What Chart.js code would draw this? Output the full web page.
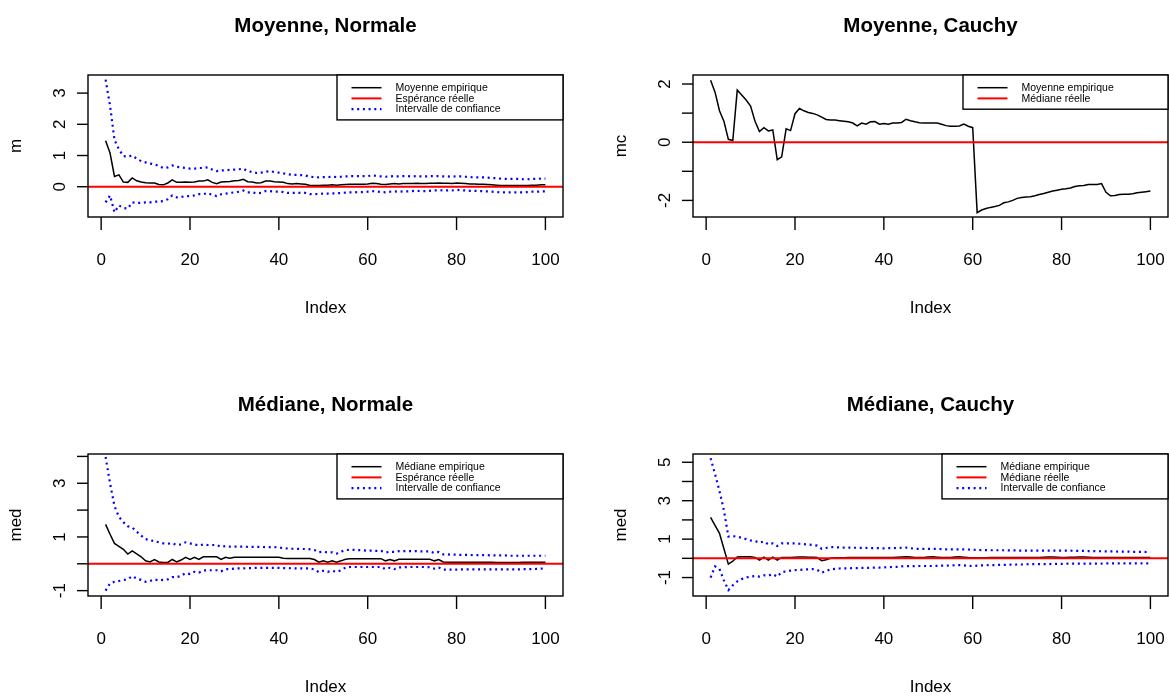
<!DOCTYPE html>
<html>
<head>
<meta charset="utf-8">
<script src="https://cdn.jsdelivr.net/npm/chart.js@4.4.1/dist/chart.umd.min.js"></script>
<style>
  html, body { margin: 0; padding: 0; background: #fff; overflow: hidden; }
  #fig { position: relative; width: 1169px; height: 697px; background: #fff; }
  .cell { position: absolute; }
  .cell canvas { display: block; }
</style>
</head>
<body>
<div id="fig">
  <div class="cell" style="left:0;top:0"><canvas id="c1" width="584" height="379"></canvas></div>
  <div class="cell" style="left:584px;top:0"><canvas id="c2" width="585" height="379"></canvas></div>
  <div class="cell" style="left:0;top:379px"><canvas id="c3" width="584" height="318"></canvas></div>
  <div class="cell" style="left:584px;top:379px"><canvas id="c4" width="585" height="318"></canvas></div>
</div>
<script>
// sample size index 1..100
const idx = Array.from({ length: 100 }, (_, i) => i + 1);
const xTicks = [0, 20, 40, 60, 80, 100];
const trueValue = 0;

// running mean, normal sample, with confidence bounds
const meanNorm = [
  1.47, 1.08, 0.33, 0.38, 0.15, 0.14, 0.28, 0.19, 0.15, 0.13,
  0.12, 0.12, 0.07, 0.06, 0.12, 0.22, 0.14, 0.14, 0.15, 0.14,
  0.15, 0.18, 0.18, 0.22, 0.14, 0.10, 0.15, 0.16, 0.17, 0.19,
  0.20, 0.24, 0.16, 0.15, 0.12, 0.13, 0.18, 0.18, 0.16, 0.15,
  0.14, 0.10, 0.09, 0.10, 0.09, 0.08, 0.04, 0.04, 0.04, 0.05,
  0.05, 0.06, 0.05, 0.06, 0.07, 0.08, 0.08, 0.08, 0.08, 0.09,
  0.11, 0.10, 0.08, 0.07, 0.09, 0.10, 0.09, 0.10, 0.10, 0.10,
  0.11, 0.10, 0.10, 0.11, 0.11, 0.12, 0.11, 0.11, 0.10, 0.12,
  0.11, 0.10, 0.09, 0.09, 0.08, 0.08, 0.07, 0.06, 0.05, 0.04,
  0.04, 0.04, 0.04, 0.04, 0.04, 0.04, 0.05, 0.05, 0.06, 0.06
];
const meanNormHi = [
  3.43, 2.60, 1.50, 1.20, 0.98, 0.97, 1.00, 0.90, 0.82, 0.78,
  0.74, 0.72, 0.66, 0.60, 0.62, 0.68, 0.64, 0.62, 0.60, 0.58,
  0.58, 0.60, 0.60, 0.62, 0.55, 0.50, 0.52, 0.53, 0.54, 0.55,
  0.56, 0.58, 0.50, 0.47, 0.44, 0.45, 0.48, 0.50, 0.47, 0.45,
  0.43, 0.40, 0.38, 0.38, 0.37, 0.36, 0.32, 0.31, 0.30, 0.31,
  0.31, 0.32, 0.31, 0.32, 0.33, 0.34, 0.34, 0.34, 0.34, 0.34,
  0.36, 0.35, 0.33, 0.32, 0.33, 0.34, 0.33, 0.34, 0.34, 0.33,
  0.34, 0.33, 0.33, 0.34, 0.34, 0.34, 0.33, 0.33, 0.32, 0.34,
  0.33, 0.32, 0.31, 0.30, 0.30, 0.30, 0.29, 0.28, 0.27, 0.26,
  0.25, 0.25, 0.25, 0.25, 0.24, 0.24, 0.25, 0.25, 0.26, 0.26
];
const meanNormLo = [
  -0.50, -0.28, -0.82, -0.60, -0.68, -0.70, -0.50, -0.52, -0.52, -0.50,
  -0.50, -0.48, -0.48, -0.46, -0.40, -0.28, -0.34, -0.33, -0.30, -0.30,
  -0.28, -0.24, -0.24, -0.20, -0.26, -0.30, -0.24, -0.22, -0.20, -0.18,
  -0.16, -0.12, -0.18, -0.18, -0.21, -0.20, -0.14, -0.14, -0.16, -0.16,
  -0.17, -0.20, -0.20, -0.19, -0.20, -0.20, -0.24, -0.24, -0.23, -0.22,
  -0.22, -0.21, -0.21, -0.20, -0.19, -0.18, -0.18, -0.17, -0.17, -0.16,
  -0.14, -0.15, -0.17, -0.18, -0.16, -0.15, -0.16, -0.15, -0.15, -0.14,
  -0.13, -0.14, -0.14, -0.13, -0.12, -0.11, -0.12, -0.12, -0.12, -0.10,
  -0.11, -0.12, -0.13, -0.13, -0.14, -0.14, -0.15, -0.16, -0.17, -0.18,
  -0.18, -0.18, -0.18, -0.18, -0.18, -0.17, -0.16, -0.16, -0.15, -0.15
];

// running mean, Cauchy sample
const meanCauchy = [
  2.13, 1.72, 1.08, 0.72, 0.10, 0.06, 1.79, 1.62, 1.45, 1.24,
  0.72, 0.37, 0.50, 0.39, 0.42, -0.60, -0.50, 0.46, 0.40, 0.98,
  1.16, 1.08, 1.02, 0.99, 0.94, 0.86, 0.78, 0.76, 0.76, 0.74,
  0.72, 0.70, 0.66, 0.56, 0.66, 0.62, 0.70, 0.71, 0.62, 0.64,
  0.62, 0.66, 0.66, 0.68, 0.79, 0.74, 0.70, 0.67, 0.66, 0.66,
  0.66, 0.66, 0.62, 0.57, 0.55, 0.55, 0.56, 0.62, 0.55, 0.50,
  -2.42, -2.33, -2.28, -2.24, -2.21, -2.17, -2.08, -2.05, -2.00, -1.93,
  -1.90, -1.88, -1.87, -1.84, -1.80, -1.76, -1.72, -1.68, -1.65, -1.62,
  -1.60, -1.57, -1.52, -1.50, -1.49, -1.45, -1.45, -1.45, -1.42, -1.72,
  -1.84, -1.83, -1.80, -1.79, -1.79, -1.77, -1.74, -1.72, -1.70, -1.68
];

// running median, normal sample, with confidence bounds
const medNorm = [
  1.47, 1.10, 0.76, 0.65, 0.54, 0.36, 0.48, 0.37, 0.26, 0.11,
  0.07, 0.16, 0.07, 0.05, 0.05, 0.16, 0.07, 0.14, 0.24, 0.16,
  0.24, 0.16, 0.26, 0.26, 0.26, 0.26, 0.16, 0.24, 0.21, 0.24,
  0.24, 0.24, 0.24, 0.24, 0.24, 0.24, 0.24, 0.24, 0.24, 0.24,
  0.21, 0.20, 0.20, 0.20, 0.20, 0.20, 0.20, 0.16, 0.06, 0.11,
  0.06, 0.11, 0.06, 0.11, 0.17, 0.19, 0.19, 0.19, 0.19, 0.19,
  0.19, 0.19, 0.19, 0.11, 0.16, 0.11, 0.17, 0.17, 0.17, 0.17,
  0.17, 0.17, 0.17, 0.17, 0.11, 0.16, 0.07, 0.06, 0.06, 0.06,
  0.06, 0.06, 0.06, 0.06, 0.06, 0.06, 0.06, 0.06, 0.05, 0.05,
  0.05, 0.05, 0.05, 0.05, 0.06, 0.06, 0.06, 0.06, 0.06, 0.06
];
const medNormHi = [
  3.98, 3.00, 2.15, 1.75, 1.55, 1.40, 1.35, 1.20, 1.05, 0.92,
  0.88, 0.84, 0.80, 0.76, 0.75, 0.76, 0.70, 0.72, 0.80, 0.76,
  0.72, 0.68, 0.72, 0.70, 0.70, 0.70, 0.63, 0.66, 0.64, 0.64,
  0.64, 0.64, 0.63, 0.63, 0.63, 0.63, 0.62, 0.62, 0.62, 0.61,
  0.58, 0.57, 0.56, 0.56, 0.55, 0.55, 0.54, 0.51, 0.43, 0.45,
  0.42, 0.43, 0.38, 0.45, 0.51, 0.52, 0.52, 0.51, 0.50, 0.49,
  0.49, 0.48, 0.48, 0.42, 0.45, 0.44, 0.47, 0.47, 0.47, 0.47,
  0.47, 0.46, 0.46, 0.46, 0.40, 0.44, 0.35, 0.35, 0.34, 0.34,
  0.33, 0.33, 0.33, 0.32, 0.32, 0.32, 0.32, 0.31, 0.31, 0.31,
  0.31, 0.30, 0.30, 0.30, 0.30, 0.30, 0.30, 0.30, 0.30, 0.30
];
const medNormLo = [
  -1.00, -0.73, -0.67, -0.64, -0.61, -0.57, -0.46, -0.55, -0.60, -0.67,
  -0.64, -0.58, -0.62, -0.60, -0.58, -0.50, -0.50, -0.45, -0.35, -0.38,
  -0.30, -0.33, -0.25, -0.24, -0.24, -0.24, -0.28, -0.20, -0.20, -0.18,
  -0.17, -0.17, -0.16, -0.16, -0.15, -0.15, -0.15, -0.15, -0.15, -0.15,
  -0.16, -0.16, -0.17, -0.17, -0.17, -0.17, -0.17, -0.21, -0.31, -0.26,
  -0.30, -0.26, -0.30, -0.24, -0.14, -0.12, -0.12, -0.12, -0.12, -0.12,
  -0.12, -0.12, -0.12, -0.20, -0.15, -0.20, -0.13, -0.13, -0.12, -0.12,
  -0.12, -0.12, -0.12, -0.13, -0.18, -0.14, -0.22, -0.22, -0.22, -0.22,
  -0.21, -0.21, -0.21, -0.21, -0.21, -0.21, -0.21, -0.21, -0.21, -0.21,
  -0.21, -0.21, -0.21, -0.21, -0.20, -0.20, -0.20, -0.19, -0.18, -0.17
];

// running median, Cauchy sample, with confidence bounds
const medCauchy = [
  2.13, 1.72, 1.30, 0.50, -0.30, -0.15, 0.07, 0.08, 0.08, 0.08,
  0.05, -0.09, 0.06, -0.09, 0.06, -0.09, 0.05, 0.05, 0.05, 0.06,
  0.07, 0.07, 0.06, 0.06, 0.04, -0.12, -0.07, 0.00, 0.03, 0.03,
  0.03, 0.04, 0.04, 0.04, 0.05, 0.05, 0.05, 0.05, 0.04, 0.04,
  0.05, 0.05, 0.06, 0.07, 0.08, 0.07, 0.05, 0.04, 0.05, 0.07,
  0.08, 0.06, 0.04, 0.04, 0.05, 0.07, 0.08, 0.06, 0.04, 0.03,
  0.03, 0.03, 0.03, 0.04, 0.04, 0.04, 0.04, 0.04, 0.04, 0.04,
  0.04, 0.04, 0.04, 0.04, 0.05, 0.06, 0.07, 0.07, 0.06, 0.05,
  0.05, 0.06, 0.06, 0.07, 0.07, 0.06, 0.05, 0.04, 0.04, 0.04,
  0.04, 0.04, 0.04, 0.04, 0.04, 0.04, 0.04, 0.04, 0.04, 0.04
];
const medCauchyHi = [
  5.21, 4.40, 3.50, 2.50, 1.13, 1.16, 1.12, 1.07, 1.00, 0.93,
  0.90, 0.82, 0.88, 0.73, 0.78, 0.64, 0.78, 0.78, 0.78, 0.78,
  0.76, 0.74, 0.72, 0.70, 0.66, 0.50, 0.54, 0.58, 0.58, 0.57,
  0.56, 0.56, 0.55, 0.55, 0.54, 0.54, 0.53, 0.53, 0.53, 0.52,
  0.53, 0.53, 0.54, 0.55, 0.56, 0.53, 0.50, 0.49, 0.49, 0.49,
  0.49, 0.49, 0.48, 0.47, 0.47, 0.47, 0.47, 0.47, 0.46, 0.45,
  0.44, 0.43, 0.43, 0.42, 0.42, 0.42, 0.42, 0.41, 0.41, 0.41,
  0.40, 0.40, 0.40, 0.40, 0.40, 0.40, 0.40, 0.40, 0.40, 0.40,
  0.40, 0.40, 0.39, 0.39, 0.39, 0.38, 0.38, 0.37, 0.37, 0.36,
  0.36, 0.36, 0.35, 0.35, 0.35, 0.34, 0.34, 0.34, 0.33, 0.33
];
const medCauchyLo = [
  -1.00, -0.42, -0.55, -1.15, -1.65, -1.40, -1.20, -1.08, -1.00, -0.95,
  -0.92, -0.95, -0.88, -0.90, -0.82, -0.95, -0.72, -0.68, -0.64, -0.61,
  -0.60, -0.58, -0.57, -0.56, -0.60, -0.75, -0.66, -0.57, -0.55, -0.53,
  -0.52, -0.52, -0.51, -0.51, -0.50, -0.50, -0.49, -0.48, -0.48, -0.47,
  -0.46, -0.45, -0.44, -0.42, -0.40, -0.41, -0.41, -0.40, -0.40, -0.40,
  -0.40, -0.39, -0.38, -0.38, -0.37, -0.36, -0.35, -0.37, -0.39, -0.40,
  -0.38, -0.37, -0.36, -0.35, -0.35, -0.34, -0.34, -0.33, -0.33, -0.32,
  -0.32, -0.31, -0.30, -0.30, -0.30, -0.30, -0.30, -0.29, -0.29, -0.29,
  -0.28, -0.28, -0.28, -0.28, -0.28, -0.27, -0.27, -0.27, -0.27, -0.26,
  -0.26, -0.26, -0.26, -0.26, -0.26, -0.26, -0.26, -0.26, -0.26, -0.26
];

const FONT = '"Liberation Sans", Arial, Helvetica, sans-serif';
const BLUE_DOT = [2, 3.7];

function line(ctx, x1, y1, x2, y2) {
  ctx.beginPath();
  ctx.moveTo(x1, y1);
  ctx.lineTo(x2, y2);
  ctx.stroke();
}

function vText(ctx, s, x, y) {
  // text read bottom-to-top, baseline at x
  ctx.save();
  ctx.translate(x, y);
  ctx.rotate(-Math.PI / 2);
  ctx.textAlign = 'center';
  ctx.textBaseline = 'alphabetic';
  ctx.fillText(s, 0, 0);
  ctx.restore();
}

// base-graphics style frame: box, outside ticks, titles, abline and legend
const rFrame = {
  id: 'rFrame',
  afterDatasetsDraw(chart, args, o) {
    const { ctx, chartArea: a, scales: { x, y } } = chart;
    ctx.save();

    // reference value
    ctx.strokeStyle = '#ff0000';
    ctx.lineWidth = 2;
    const yr = y.getPixelForValue(o.ref.value);
    line(ctx, a.left, yr, a.right, yr);

    ctx.strokeStyle = '#000';
    ctx.fillStyle = '#000';
    ctx.lineWidth = 1.4;
    ctx.strokeRect(a.left, a.top, a.right - a.left, a.bottom - a.top);

    // x axis
    ctx.font = '17px ' + FONT;
    ctx.textAlign = 'center';
    ctx.textBaseline = 'alphabetic';
    xTicks.forEach(v => {
      const px = x.getPixelForValue(v);
      line(ctx, px, a.bottom, px, a.bottom + 13);
      ctx.fillText(String(v), px, a.bottom + 48);
    });
    ctx.fillText('Index', (a.left + a.right) / 2, a.bottom + 96);

    // y axis
    o.yTicks.forEach(v => {
      const py = y.getPixelForValue(v);
      line(ctx, a.left - 11, py, a.left, py);
      if (o.yLabels.includes(v)) vText(ctx, String(v), a.left - 23, py);
    });
    vText(ctx, o.ylab, a.left - 67, (a.top + a.bottom) / 2);

    ctx.font = 'bold 20.5px ' + FONT;
    ctx.textAlign = 'center';
    ctx.fillText(o.title, (a.left + a.right) / 2, a.top - 43.5);

    // legend, top right corner
    const rowH = 10.7;
    const lh = 13 + rowH * (o.legend.length - 1) + 10.5;
    const lx = a.right - o.legendW;
    ctx.fillStyle = '#fff';
    ctx.fillRect(lx, a.top, o.legendW, lh);
    ctx.strokeStyle = '#000';
    ctx.lineWidth = 1.4;
    ctx.strokeRect(lx, a.top, o.legendW, lh);
    ctx.font = '10.5px ' + FONT;
    ctx.textAlign = 'left';
    ctx.textBaseline = 'middle';
    o.legend.forEach((it, i) => {
      const ry = a.top + 12.7 + i * rowH;
      ctx.strokeStyle = it.color;
      ctx.lineWidth = it.width;
      ctx.setLineDash(it.dash || []);
      line(ctx, lx + 14.5, ry, lx + 44.5, ry);
      ctx.setLineDash([]);
      ctx.fillStyle = '#000';
      ctx.fillText(it.label, lx + 58.5, ry + 0.5);
    });
    ctx.restore();
  }
};

function series(values, color, width, dash) {
  return {
    data: values.map((v, i) => ({ x: idx[i], y: v })),
    borderColor: color,
    borderWidth: width,
    borderDash: dash || [],
    borderCapStyle: 'butt',
    pointRadius: 0,
    tension: 0,
    fill: false
  };
}

function panel(id, p) {
  const est = { label: p.estLabel, color: '#000', width: 1.5 };
  const ref = { label: p.refLabel, color: '#ff0000', width: 2, value: trueValue };
  const ci = { label: 'Intervalle de confiance', color: '#0000ff', width: 2.2, dash: BLUE_DOT };
  const datasets = [series(p.est, est.color, est.width)];
  const legend = [est, ref];
  if (p.hi) {
    datasets.push(series(p.hi, ci.color, ci.width, ci.dash));
    datasets.push(series(p.lo, ci.color, ci.width, ci.dash));
    legend.push(ci);
  }
  return new Chart(document.getElementById(id), {
    type: 'line',
    data: { datasets },
    options: {
      responsive: false,
      animation: false,
      devicePixelRatio: 1,
      layout: { padding: p.pad },
      scales: {
        x: { type: 'linear', min: -2.96, max: 103.96, display: false },
        y: { type: 'linear', min: p.yRange[0], max: p.yRange[1], display: false }
      },
      plugins: {
        legend: { display: false },
        tooltip: { enabled: false },
        rFrame: {
          title: p.title, ylab: p.ylab, yTicks: p.yTicks, yLabels: p.yLabels,
          ref, legend, legendW: p.legendW
        }
      }
    },
    plugins: [rFrame]
  });
}

const padTopL = { left: 88, right: 21, top: 75, bottom: 162 };
const padTopR = { left: 109, right: 1, top: 75, bottom: 162 };
const padBotL = { left: 88, right: 21, top: 75, bottom: 101 };
const padBotR = { left: 109, right: 1, top: 75, bottom: 101 };

panel('c1', {
  title: 'Moyenne, Normale', ylab: 'm', pad: padTopL,
  yRange: [-0.97, 3.58], yTicks: [0, 1, 2, 3], yLabels: [0, 1, 2, 3],
  est: meanNorm, hi: meanNormHi, lo: meanNormLo,
  estLabel: 'Moyenne empirique', refLabel: 'Espérance réelle', legendW: 226
});
panel('c2', {
  title: 'Moyenne, Cauchy', ylab: 'mc', pad: padTopR,
  yRange: [-2.57, 2.31], yTicks: [-2, -1, 0, 1, 2], yLabels: [-2, 0, 2],
  est: meanCauchy,
  estLabel: 'Moyenne empirique', refLabel: 'Médiane réelle', legendW: 205
});
panel('c3', {
  title: 'Médiane, Normale', ylab: 'med', pad: padBotL,
  yRange: [-1.2, 4.09], yTicks: [-1, 0, 1, 2, 3, 4], yLabels: [-1, 1, 3],
  est: medNorm, hi: medNormHi, lo: medNormLo,
  estLabel: 'Médiane empirique', refLabel: 'Espérance réelle', legendW: 226
});
panel('c4', {
  title: 'Médiane, Cauchy', ylab: 'med', pad: padBotR,
  yRange: [-1.96, 5.43], yTicks: [-1, 0, 1, 2, 3, 4, 5], yLabels: [-1, 1, 3, 5],
  est: medCauchy, hi: medCauchyHi, lo: medCauchyLo,
  estLabel: 'Médiane empirique', refLabel: 'Médiane réelle', legendW: 226
});
</script>
</body>
</html>
